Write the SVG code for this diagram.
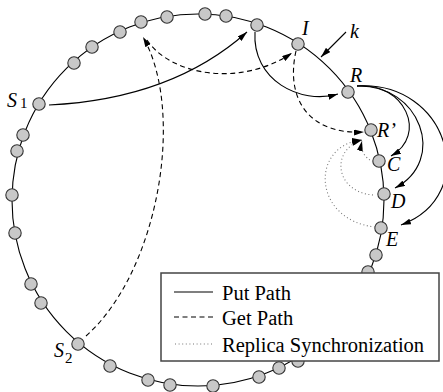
<svg xmlns="http://www.w3.org/2000/svg" width="443" height="392" viewBox="0 0 443 392">
<defs>
<marker id="ah" viewBox="0 0 10 6" refX="10" refY="3" markerWidth="10" markerHeight="6" markerUnits="userSpaceOnUse" orient="auto">
<path d="M0,0 L10,3 L0,6 Z" fill="#000"/>
</marker>
</defs>
<style>
.ring{fill:none;stroke:#000;stroke-width:1.1}
.node{fill:#c8c8c8;stroke:#333;stroke-width:1.1}
.put{fill:none;stroke:#000;stroke-width:1.1}
.get{fill:none;stroke:#000;stroke-width:1.1;stroke-dasharray:5,3.5}
.sync{fill:none;stroke:#777;stroke-width:1.1;stroke-dasharray:1,2.6}
.lbl{font-family:"Liberation Serif",serif;font-style:italic;font-size:20px;fill:#000}
.sub{font-family:"Liberation Serif",serif;font-size:15px;fill:#000}
.leg{font-family:"Liberation Serif",serif;font-size:20.5px;fill:#000}
</style>
<circle class="ring" cx="198" cy="200" r="186"/>
<g id="nodes">
<circle id="n1" class="node" cx="141" cy="22" r="6.2"/>
<circle id="n2" class="node" cx="120" cy="32" r="6.2"/>
<circle id="n3" class="node" cx="92" cy="47" r="6.2"/>
<circle id="n4" class="node" cx="74" cy="63" r="6.2"/>
<circle id="S1" class="node" cx="39" cy="104" r="6.2"/>
<circle id="n6" class="node" cx="23" cy="135" r="6.2"/>
<circle id="n7" class="node" cx="17" cy="151" r="6.2"/>
<circle id="n8" class="node" cx="12" cy="195" r="6.2"/>
<circle id="n9" class="node" cx="15" cy="233" r="6.2"/>
<circle id="n10" class="node" cx="31" cy="284" r="6.2"/>
<circle id="n11" class="node" cx="41" cy="303" r="6.2"/>
<circle id="S2" class="node" cx="78" cy="344" r="6.2"/>
<circle id="n13" class="node" cx="110" cy="366" r="6.2"/>
<circle id="n14" class="node" cx="148" cy="380" r="6.2"/>
<circle id="n15" class="node" cx="170" cy="385" r="6.2"/>
<circle id="n16" class="node" cx="213" cy="386" r="6.2"/>
<circle id="n17" class="node" cx="259" cy="377" r="6.2"/>
<circle id="n18" class="node" cx="279" cy="368" r="6.2"/>
<circle id="n19" class="node" cx="298" cy="361" r="6.2"/>
<circle id="n20" class="node" cx="368" cy="272" r="6.2"/>
<circle id="n21" class="node" cx="376" cy="255" r="6.2"/>
<circle id="E" class="node" cx="381" cy="228" r="6.2"/>
<circle id="D" class="node" cx="384" cy="194" r="6.2"/>
<circle id="C" class="node" cx="379" cy="161" r="6.2"/>
<circle id="Rp" class="node" cx="371" cy="130" r="6.2"/>
<circle id="R" class="node" cx="348" cy="92" r="6.2"/>
<circle id="I" class="node" cx="298" cy="44" r="6.2"/>
<circle id="n28" class="node" cx="257" cy="25" r="6.2"/>
<circle id="n29" class="node" cx="226" cy="16" r="6.2"/>
<circle id="n30" class="node" cx="205" cy="14" r="6.2"/>
<circle id="n31" class="node" cx="167" cy="17" r="6.2"/>
</g>
<g id="connectors">
<path class="put" d="M49,105 C150,100 210,65 247,32" marker-end="url(#ah)"/>
<path class="put" d="M255,32 C252,80 300,105 338,94" marker-end="url(#ah)"/>
<path class="put" d="M357,86 C405,82 428,135 391,156" marker-end="url(#ah)"/>
<path class="put" d="M357,86 C420,84 448,160 395,188" marker-end="url(#ah)"/>
<path class="put" d="M357,86 C448,80 482,195 401,225" marker-end="url(#ah)"/>
<path class="get" d="M86,336 C160,270 185,110 143,37" marker-end="url(#ah)"/>
<path class="get" d="M147,40 C170,75 240,88 292,53" marker-end="url(#ah)"/>
<path class="get" d="M296,51 C285,100 310,135 364,132" marker-end="url(#ah)"/>
<path class="sync" d="M373,162 C364,157 360,150 362,141" marker-end="url(#ah)"/>
<path class="sync" d="M373,195 C335,192 330,150 362,140" marker-end="url(#ah)"/>
<path class="sync" d="M375,227 C312,220 310,145 362,140" marker-end="url(#ah)"/>
<line class="put" x1="346" y1="32" x2="321" y2="57" marker-end="url(#ah)"/>
</g>
<g id="labels">
<text class="lbl" x="7" y="107">S</text><text class="sub" x="20" y="108">1</text>
<text class="lbl" x="54" y="357">S</text><text class="sub" x="65" y="363">2</text>
<text class="lbl" x="302" y="35">I</text>
<text class="lbl" x="350" y="38">k</text>
<text class="lbl" x="350" y="82">R</text>
<text class="lbl" x="377" y="137">R’</text>
<text class="lbl" x="387" y="171">C</text>
<text class="lbl" x="391" y="208">D</text>
<text class="lbl" x="386" y="246">E</text>
</g>
<g id="legend">
<rect x="161" y="273" width="278" height="88" fill="#fff" stroke="#444" stroke-width="1.5"/>
<line class="put" x1="174" y1="292" x2="213" y2="292"/>
<line class="get" x1="174" y1="317" x2="213" y2="317"/>
<line class="sync" x1="175" y1="344" x2="213" y2="344"/>
<text class="leg" x="222" y="300">Put Path</text>
<text class="leg" x="222" y="325">Get Path</text>
<text class="leg" x="222" y="352">Replica Synchronization</text>
</g>
</svg>
